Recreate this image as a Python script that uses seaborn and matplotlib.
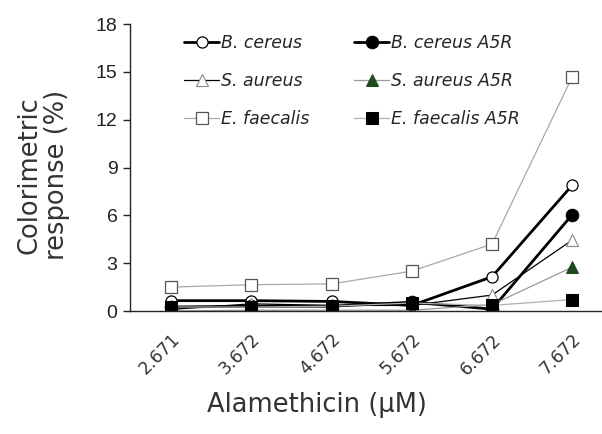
import numpy as np
import pandas as pd
import seaborn as sns
import matplotlib
matplotlib.use("Agg")
import matplotlib.pyplot as plt
from matplotlib.transforms import ScaledTranslation

# alamethicin concentrations (x categories)
conc = ["2.671", "3.672", "4.672", "5.672", "6.672", "7.672"]

# colorimetric response (%)
b_cereus     = [0.65, 0.65, 0.60, 0.35, 2.15, 7.90]
b_cereus_a5r = [0.25, 0.30, 0.30, 0.55, 0.12, 6.05]
s_aureus     = [0.10, 0.45, 0.35, 0.35, 1.00, 4.45]
s_aureus_a5r = [0.00, 0.05, 0.05, 0.05, 0.40, 2.75]
e_faecalis   = [1.50, 1.65, 1.70, 2.50, 4.20, 14.70]
e_faecalis_a5r = [0.25, 0.25, 0.30, 0.50, 0.35, 0.72]

sns.set_style("white")
plt.rcParams['font.family'] = ['DejaVu Sans']

fig = plt.figure(figsize=(6.02, 4.34), dpi=100)
ax = fig.add_axes([0.216, 0.2834, 0.784, 0.661])

xpos = np.arange(len(conc))

series = [
    ("B. cereus", b_cereus, dict(color="black", lw=2.0, marker="o", ms=8,
                                  mfc="white", mec="black", mew=0.9)),
    ("B. cereus A5R", b_cereus_a5r, dict(color="black", lw=2.0, marker="o", ms=9,
                                          mfc="black", mec="black")),
    ("S. aureus", s_aureus, dict(color="black", lw=0.9, marker="^", ms=9,
                                  mfc="white", mec="#888888", mew=0.8)),
    ("S. aureus A5R", s_aureus_a5r, dict(color="#9a9a9a", lw=0.9, marker="^", ms=9,
                                          mfc="#1e4a1e", mec="#1e4a1e")),
    ("E. faecalis", e_faecalis, dict(color="#a8a8a8", lw=0.9, marker="s", ms=9,
                                      mfc="white", mec="#555555", mew=0.9)),
    ("E. faecalis A5R", e_faecalis_a5r, dict(color="#b0b0b0", lw=0.9, marker="s", ms=9,
                                              mfc="black", mec="black")),
]

for name, vals, kw in series:
    sns.lineplot(x=xpos, y=vals, ax=ax, label=name, **kw)

ax.set_ylim(0, 18)
ax.set_yticks([0, 3, 6, 9, 12, 15, 18])
ax.set_xlim(-0.51, 5.37)
ax.set_xticks(xpos)
ax.set_xticklabels(conc, rotation=45, ha="right", va="top", rotation_mode="anchor",
                   fontsize=12.5, color="#333333")
for lab in ax.get_xticklabels():
    lab.set_transform(lab.get_transform() + ScaledTranslation(-7 / 72, 0, fig.dpi_scale_trans))

sns.despine(ax=ax)
ax.spines['left'].set_linewidth(1.0)
ax.spines['bottom'].set_linewidth(1.0)
ax.tick_params(axis='y', direction='out', length=5, width=1, left=True, pad=4,
               colors='#222222', labelsize=14, labelfontfamily='Liberation Sans')
ax.tick_params(axis='x', length=0, pad=14)

ax.set_ylabel("Colorimetric\nresponse (%)", fontsize=18.5, color="#333333", linespacing=1.1)
ax.yaxis.set_label_coords(0.117, 0.597, transform=fig.transFigure)
fig.text(0.526, 0.067, "Alamethicin (\u00b5M)", ha="center", va="center", fontsize=18.5, color="#333333")

# legend filled row by row: species in rows, wild type / A5R in columns
h, l = ax.get_legend_handles_labels()
order = [0, 2, 4, 1, 3, 5]
leg = ax.legend([h[i] for i in order], [l[i] for i in order],
                loc="upper left", bbox_to_anchor=(0.28, 0.957), bbox_transform=fig.transFigure,
                ncol=2, frameon=False,
                prop={"style": "italic", "size": 12.5}, handlelength=2.0,
                handletextpad=0.1, columnspacing=2.6, labelspacing=1.15)

fig.savefig("out.png", dpi=100)
